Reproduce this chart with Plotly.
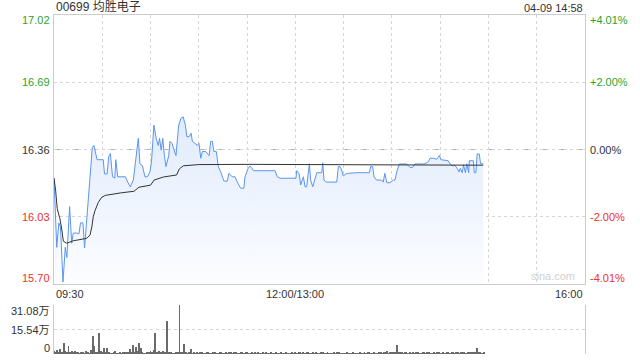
import plotly.graph_objects as go

# ---- data (minute index from 09:30, lunch break removed) ----
price_t = [0, 1.7, 3, 4, 5.6, 7, 8, 9.7, 11, 12, 14, 15.5, 16.5, 18, 19, 20.5, 22, 23.8, 24.8, 25.8,
           26.8, 30.6, 31.4, 33, 34, 35, 36.4, 37.8, 38.4, 39.6, 44.4, 45.8, 47.4, 49.3, 50.3, 51.3,
           52.4, 53.4, 55, 56.5, 58, 59.6, 60.6, 62.1, 63.5, 64.8, 65.6, 66.6, 67.6, 68.6, 69.6,
           71.3, 72.1, 73.3, 74.7, 75.8, 77.5, 78.9, 80.3, 81.6, 82.6, 84, 85.2, 86, 87.6, 89.1,
           90.1, 91.2, 92.2, 94.3, 96.4, 97.4, 98.4, 99.4, 100.9, 102.1, 103.6, 105.6, 107.7,
           108.7, 110.8, 112.5, 113.9, 116, 118, 118.7, 120.7, 121.8, 122.8, 123.9, 137.4, 138.8,
           140.4, 150.4, 150.8, 152.4, 153.3, 154.1, 155, 156, 157, 158.7, 159.5, 160.8, 162.2,
           163.3, 166.4, 167, 167.8, 169, 175.7, 176.7, 177.7, 178.7, 179.8, 181.4, 182.9, 187.5,
           196, 196.8, 198, 198.9, 200.5, 203.6, 204.6, 205.6, 206.8, 208.8, 210.9, 211.9, 213,
           214.6, 219.2, 221.2, 222.9, 224.3, 229.5, 230.5, 232.6, 233.7, 235.7, 237.8, 239.5,
           240.5, 245, 246, 248, 249, 250.5, 251.7, 252.5, 253.7, 254.5, 255.7, 256.5, 257.7,
           258.1, 260.6, 261.2, 262.2, 263, 264.3, 265.1, 266.8]
price = [16.22, 15.88, 16.00, 15.98, 15.71, 15.88, 15.83, 16.08, 15.90, 15.95, 15.95, 15.946, 16.00,
         16.00, 15.877, 16.03, 16.18, 16.37, 16.38, 16.35, 16.31, 16.31, 16.24, 16.24, 16.325,
         16.34, 16.226, 16.22, 16.31, 16.226, 16.226, 16.20, 16.177, 16.21, 16.284, 16.357,
         16.415, 16.29, 16.28, 16.226, 16.226, 16.25, 16.30, 16.48, 16.415, 16.38, 16.415,
         16.357, 16.415, 16.33, 16.276, 16.33, 16.40, 16.39, 16.35, 16.33, 16.48, 16.513, 16.52,
         16.48, 16.423, 16.423, 16.44, 16.40, 16.39, 16.38, 16.39, 16.317, 16.35, 16.35, 16.33,
         16.40, 16.40, 16.35, 16.35, 16.276, 16.25, 16.205, 16.205, 16.243, 16.226, 16.226,
         16.20, 16.17, 16.17, 16.226, 16.268, 16.279, 16.27, 16.256, 16.256, 16.226, 16.219,
         16.219, 16.256, 16.24, 16.186, 16.21, 16.226, 16.177, 16.177, 16.29, 16.21, 16.177,
         16.22, 16.246, 16.246, 16.295, 16.21, 16.20, 16.20, 16.276, 16.276, 16.26, 16.23,
         16.24, 16.243, 16.246, 16.246, 16.276, 16.276, 16.226, 16.21, 16.21, 16.20, 16.243,
         16.197, 16.197, 16.21, 16.21, 16.25, 16.289, 16.289, 16.272, 16.272, 16.289, 16.289,
         16.29, 16.30, 16.317, 16.317, 16.312, 16.331, 16.31, 16.305, 16.29, 16.279, 16.283,
         16.268, 16.25, 16.268, 16.246, 16.285, 16.246, 16.29, 16.246, 16.305, 16.305, 16.246,
         16.246, 16.338, 16.338, 16.29, 16.29]

avg_t = [0, 1, 2, 3.7, 4.8, 5.8, 7.9, 12, 20.3, 22.4, 23.5, 24.4, 25.5, 27.5, 29.6, 32, 41.4,
         49.7, 52.8, 60, 62.2, 68, 76.2, 77.9, 80.4, 90, 120, 180, 266.8]
avg_price = [16.22, 16.16, 16.07, 16.02, 15.97, 15.91, 15.90, 15.912, 15.924, 15.94, 15.98, 16.03,
             16.06, 16.10, 16.125, 16.135, 16.147, 16.155, 16.175, 16.185, 16.21, 16.225, 16.235,
             16.265, 16.28, 16.286, 16.287, 16.285, 16.283]

volume = [  # 万股 per minute
    1.8, 1.2, 2.5, 1.0, 3.0, 1.5, 6.8, 2.0, 1.2, 5.0,
    1.5, 2.0, 1.0, 1.8, 0.8, 1.5, 0.6, 0.8, 1.0, 0.5,
    2.2, 0.8, 0.6, 2.5, 11.4, 5.3, 1.5, 0.8, 13.5, 2.0,
    1.0, 3.5, 0.8, 4.0, 1.2, 0.6, 0.5, 0.8, 2.0, 0.6,
    0.5, 0.8, 0.6, 1.5, 0.8, 1.0, 1.2, 3.0, 1.0, 5.7,
    1.5, 4.5, 2.0, 7.2, 3.5, 0.8, 0.6, 0.5, 1.2, 1.5,
    2.0, 1.0, 2.5, 13.5, 1.5, 2.0, 1.2, 0.8, 1.8, 1.0,
    21.1, 1.5, 1.0, 0.8, 0.6, 0.5, 0.8, 1.0, 31.08, 0.8,
    1.0, 6.3, 0.8, 0.6, 1.0, 3.2, 0.5, 0.8, 0.6, 1.0,
    0.5, 0.8, 1.0, 0.6, 0.5, 0.8, 1.2, 0.6, 0.5, 0.8,
    1.0, 0.5, 0.6, 0.8, 1.0, 0.6, 0.5, 0.8, 0.6, 1.0,
    0.8, 0.6, 1.0, 1.2, 0.6, 0.5, 0.8, 1.0, 0.6, 0.8,
    1.2, 0.6, 0.5, 0.8, 0.6, 1.0, 0.5, 0.8, 0.6, 0.5,
    0.8, 0.6, 1.0, 0.5, 0.6, 0.8, 0.5, 0.6, 1.0, 0.5,
    0.6, 0.8, 0.5, 0.6, 0.8, 0.5, 0.6, 0.5, 0.8, 0.6,
    1.0, 0.6, 1.2, 0.8, 0.6, 1.0, 0.5, 1.5, 0.8, 0.6,
    0.5, 0.8, 0.6, 1.0, 0.5, 0.6, 1.2, 0.8, 0.5, 0.6,
    0.8, 0.5, 0.6, 0.5, 0.8, 0.6, 1.0, 0.8, 0.5, 0.6,
    0.5, 0.6, 0.8, 0.5, 0.6, 0.5, 0.8, 0.6, 0.5, 0.6,
    0.8, 0.6, 0.5, 1.0, 0.6, 0.8, 1.2, 0.6, 0.5, 0.8,
    0.6, 0.5, 0.8, 1.0, 0.6, 1.5, 0.8, 1.9, 0.6, 0.8,
    1.0, 0.8, 1.2, 5.7, 1.0, 0.8, 1.5, 0.6, 1.0, 0.8,
    0.6, 0.8, 0.5, 1.2, 0.6, 0.8, 1.0, 0.5, 0.6, 0.8,
    1.0, 0.6, 0.8, 1.2, 0.6, 0.5, 0.8, 0.6, 1.0, 0.8,
    0.6, 0.5, 0.8, 0.6, 1.0, 0.8, 0.6, 1.2, 0.8, 0.6,
    0.8, 1.5, 0.6, 1.0, 0.8, 1.2, 0.6, 0.8, 1.0, 1.5,
    0.8, 1.2, 1.0, 3.6, 1.0, 0.8, 0.6, 1.2,
]
vol_t = list(range(len(volume)))

price_ticks = [17.02, 16.69, 16.36, 16.03, 15.70]
price_labels = ["17.02", "16.69", "16.36", "16.03", "15.70"]
pct_labels = ["+4.01%", "+2.00%", "0.00%", "-2.00%", "-4.01%"]
vol_ticks = [31.08, 15.54, 0]
vol_labels = ["31.08万", "15.54万", "0"]
time_labels = ["09:30", "12:00/13:00", "16:00"]
time_ticks = [0, 150, 330]

title = "00699 均胜电子"
stamp = "04-09 14:58"

GREEN = "#2aa52a"
RED = "#f0302a"
GREY = "#333333"
FONT = "Liberation Sans, Arial, Noto Sans CJK SC, sans-serif"

fig = go.Figure()

fig.add_trace(go.Scatter(
    x=price_t, y=price, mode="lines", line=dict(color="#5b95ee", width=1),
    fill="tozeroy",
    fillgradient=dict(type="vertical", start=15.70, stop=16.52,
                      colorscale=[[0, "rgba(252,253,255,1)"], [1, "rgba(224,235,252,1)"]]),
    xaxis="x", yaxis="y", hoverinfo="skip"))
fig.add_trace(go.Scatter(
    x=avg_t, y=avg_price, mode="lines", line=dict(color="#333333", width=1),
    xaxis="x", yaxis="y", hoverinfo="skip"))
fig.add_trace(go.Bar(
    x=vol_t, y=volume, marker=dict(color="#6a6a6a", line=dict(width=0)), width=0.55,
    xaxis="x2", yaxis="y2", hoverinfo="skip"))

grid = dict(showgrid=True, gridcolor="#d6d6d6", griddash="dot", gridwidth=1)

fig.update_layout(
    width=640, height=360, margin=dict(l=54, r=55, t=15, b=6),
    paper_bgcolor="white", plot_bgcolor="white", showlegend=False,
    font=dict(family=FONT, size=11, color=GREY),
    bargap=0,
    xaxis=dict(domain=[0, 1], range=[0, 330], tickvals=list(range(30, 330, 30)),
               showticklabels=False, ticks="", zeroline=False,
               showline=True, mirror=True, linecolor="#cccccc", linewidth=1, **grid),
    yaxis=dict(domain=[0.2065, 1], range=[15.70, 17.02], tickvals=price_ticks,
               showticklabels=False, ticks="", zeroline=False,
               showline=True, mirror=True, linecolor="#cccccc", linewidth=1, **grid),
    xaxis2=dict(domain=[0, 1], range=[0, 330], anchor="y2", showticklabels=False,
                showgrid=False, zeroline=False, showline=False, ticks=""),
    yaxis2=dict(domain=[0, 0.1445], range=[0, 31.08], anchor="x2", tickvals=vol_ticks,
                showticklabels=False, ticks="", zeroline=False,
                showline=True, mirror=True, linecolor="#cccccc", linewidth=1, **grid),
)

# previous close reference line
fig.add_shape(type="line", xref="x", yref="y", x0=0, x1=330, y0=16.36, y1=16.36,
              line=dict(color="#b0b0b0", width=1, dash="dashdot"), layer="below")

ann = []
shifts = [-5, 0, 0, 0, 6]
colors = [GREEN, GREEN, GREY, RED, RED]
for v, lab, pl, c, s in zip(price_ticks, price_labels, pct_labels, colors, shifts):
    ann.append(dict(x=0, xref="paper", y=v, yref="y", text=lab, showarrow=False,
                    xanchor="right", yanchor="middle", xshift=-2, yshift=s,
                    font=dict(color=c, size=11)))
    ann.append(dict(x=1, xref="paper", y=v, yref="y", text=pl, showarrow=False,
                    xanchor="left", yanchor="middle", xshift=3, yshift=s,
                    font=dict(color=c, size=11)))
vshifts = [-6, 0, 6]
for v, lab, s in zip(vol_ticks, vol_labels, vshifts):
    ann.append(dict(x=0, xref="paper", y=v, yref="y2", text=lab, showarrow=False,
                    xanchor="right", yanchor="middle", xshift=-2, yshift=s,
                    font=dict(color=GREY, size=11)))
anchors = ["left", "center", "right"]
for t, lab, a in zip(time_ticks, time_labels, anchors):
    ann.append(dict(x=t, xref="x", y=0, yref="y domain", text=lab, showarrow=False,
                    xanchor=a, yanchor="top", yshift=-2, font=dict(color=GREY, size=11)))
ann.append(dict(x=0, xref="paper", y=1, yref="paper", text=title, showarrow=False,
                xanchor="left", yanchor="bottom", xshift=0, yshift=-1,
                font=dict(color=GREY, size=12)))
ann.append(dict(x=1, xref="paper", y=1, yref="paper", text=stamp, showarrow=False,
                xanchor="right", yanchor="bottom", yshift=-1,
                font=dict(color=GREY, size=11)))
ann.append(dict(x=0.985, xref="paper", y=15.70, yref="y", text="sina.com", showarrow=False,
                xanchor="right", yanchor="bottom", yshift=0,
                font=dict(color="#d0d0d0", size=11)))
fig.update_layout(annotations=ann)

fig.write_html("out.html")
